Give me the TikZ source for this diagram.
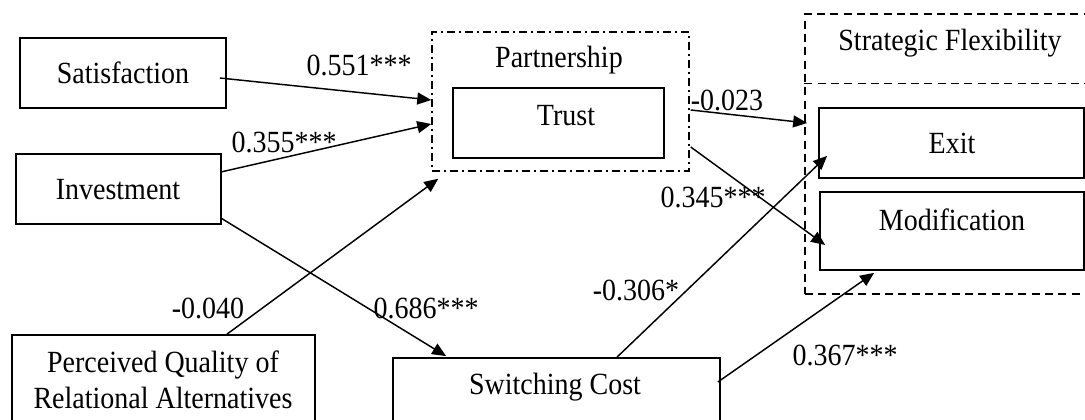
\documentclass[tikz,border=0pt]{standalone}
\usepackage{fontspec}
\setmainfont{Liberation Serif}
\usetikzlibrary{arrows.meta,fit,calc}
% slightly tall lettering
\newcommand{\tallt}[1]{\scalebox{1}[1.1]{#1}}
\begin{document}
\begin{tikzpicture}[x=0.75pt,y=-0.75pt,
  txt/.style={font=\fontsize{21}{27}\selectfont, inner sep=0pt},
  box/.style={draw, line width=1.3pt, inner sep=0pt},
  group/.style={draw, line width=1.1pt, inner sep=0pt,
    dash pattern=on 6pt off 3pt on 1.5pt off 3pt},
  flex/.style={draw, line width=1.1pt, inner sep=0pt,
    dash pattern=on 6pt off 4pt},
  conn/.style={line width=1.1pt, -{Triangle[length=10.5pt,width=9pt]}}]
\useasboundingbox (0,0) rectangle (1085,420);

% construct boxes
\node[box, fit={(20,38)(226,108)}] (sat) {};
\node[box, fit={(16,154)(221,224)}] (inv) {};
\node[box, fit={(12,335)(315,428)}] (pq) {};
\node[box, fit={(393,358)(720,428)}] (sc) {};
\node[group, fit={(432,32)(689,171)}] (part) {};
\node[box, fit={(453,88)(664,158)}] (trust) {};
\node[flex, fit={(805,14)(1095,294)}] (sf) {};
\draw[flex] ($(sf.north west)+(0,70)$) -- ($(sf.north east)+(0,70)$);
\node[box, fit={(819,108)(1084,178)}] (exit) {};
\node[box, fit={(820,192)(1084,270)}] (mod) {};

% box texts
\node[txt] (satT) at (123,73) {\tallt{Satisfaction}};
\node[txt] (invT) at (118,190) {\tallt{Investment}};
\node[txt, align=center] (pqT) at (163,380) {\tallt{Perceived Quality of}\\\tallt{Relational Alternatives}};
\node[txt] (scT) at (555,387) {\tallt{Switching Cost}};
\node[txt] (partT) at (559,60) {\tallt{Partnership}};
\node[txt] (trustT) at (566,116) {\tallt{Trust}};
\node[txt] (sfT) at (950,43) {\tallt{Strategic Flexibility}};
\node[txt] (exitT) at (952,143) {\tallt{Exit}};
\node[txt] (modT) at (952,220) {\tallt{Modification}};

% paths
\draw[conn] ($(sat.east)+(-7,5)$) -- ($(part.west)+(0,-1.5)$);
\draw[conn] ($(inv.east)+(-1,-17)$) -- ($(part.west)+(0,22.5)$);
\draw[conn] ($(pq.north)+(63.5,0)$) -- ($(part.south west)+(7,7)$);
\draw[conn] ($(inv.east)+(-1,29)$) -- ($(sc.north west)+(54,-1)$);
\draw[conn] ($(part.east)+(1,8.5)$) -- ($(exit.west)+(-11,-20)$);
\draw[conn] ($(part.east)+(1,45.5)$) -- ($(mod.west)+(6,14)$);
\draw[conn] ($(sc.north)+(60.5,0)$) -- ($(exit.south west)+(9,-23)$);
\draw[conn] ($(sc.east)+(-3,-11)$) -- ($(mod.south west)+(55,2)$);

% coefficients
\node[txt] (c1) at (359,65) {\tallt{0.551***}};
\node[txt] (c2) at (284,142) {\tallt{0.355***}};
\node[txt] (c3) at (208,308) {\tallt{-0.040}};
\node[txt] (c4) at (426,308) {\tallt{0.686***}};
\node[txt] (c5) at (727,100) {\tallt{-0.023}};
\node[txt] (c6) at (713,197) {\tallt{0.345***}};
\node[txt] (c7) at (636,290) {\tallt{-0.306*}};
\node[txt] (c8) at (845,355) {\tallt{0.367***}};
\end{tikzpicture}
\end{document}
